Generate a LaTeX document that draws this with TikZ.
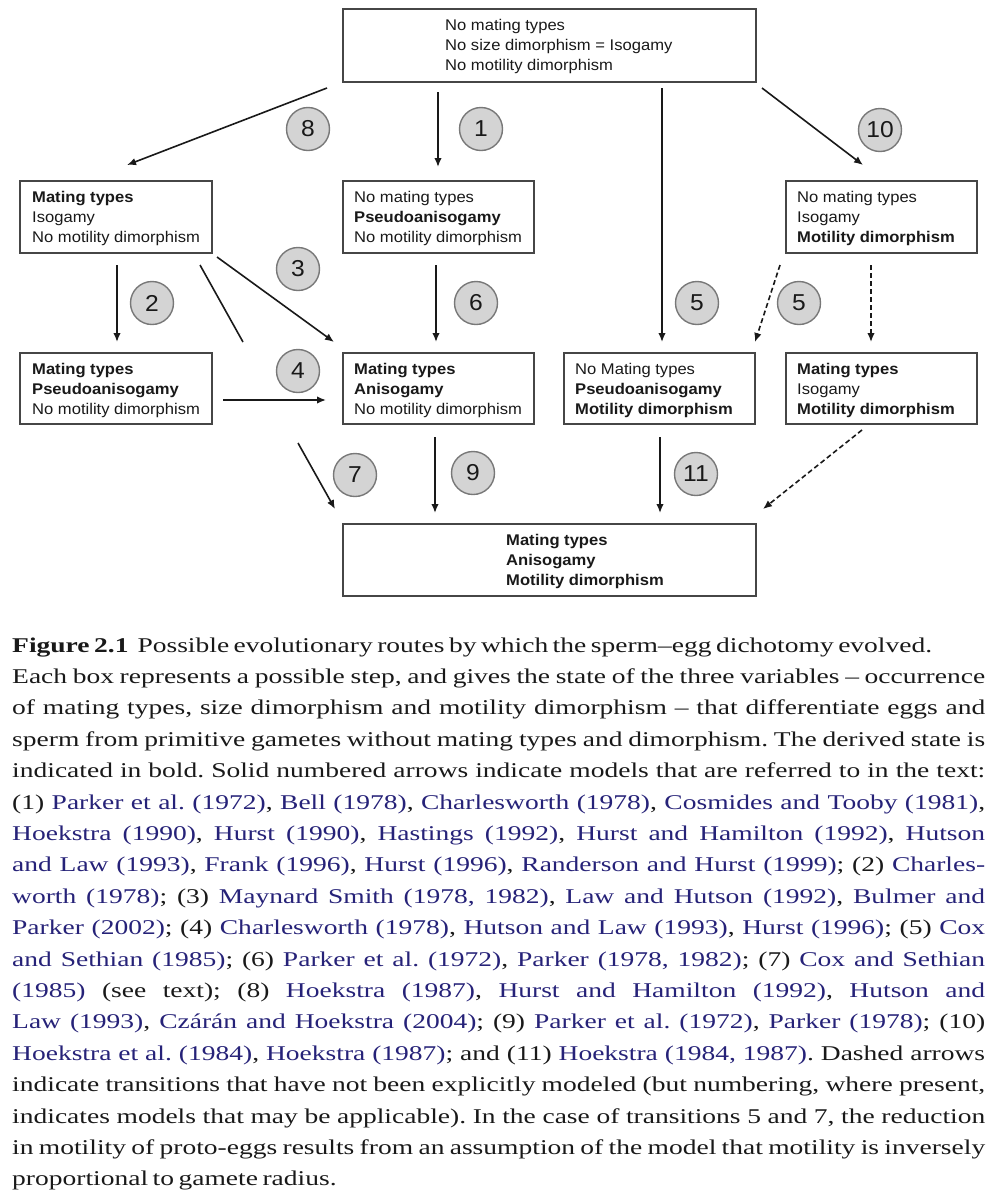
\documentclass[tikz,border=0pt]{standalone}
\usepackage{fontspec}
\usetikzlibrary{arrows.meta}
\newfontfamily\diafont[FakeStretch=1.07]{Liberation Sans}
\newfontfamily\capfont[FakeStretch=1.31]{Liberation Serif}
\definecolor{citeblue}{RGB}{38,34,120}
\definecolor{boxline}{RGB}{70,70,70}
\definecolor{circfill}{RGB}{212,212,212}
\definecolor{circline}{RGB}{120,120,120}
\definecolor{txt}{RGB}{25,25,25}
\newcommand\mycite[1]{\textcolor{citeblue}{#1}}
\begin{document}
\begin{tikzpicture}[x=1pt,y=-1pt,
  statebox/.style={draw=boxline, line width=1.6pt, rectangle, inner sep=0pt},
  boxtext/.style={anchor=west, inner sep=0pt, align=left, text=txt, font=\diafont\fontsize{15.5}{20}\selectfont},
  numcirc/.style={circle, draw=circline, fill=circfill, line width=1.4pt, minimum size=43pt, inner sep=0pt, text=txt, font=\diafont\fontsize{23}{23}\selectfont},
  arr/.style={line width=1.6pt, draw=txt, -{Latex[length=9pt,width=7.5pt]}},
  darr/.style={arr, dash pattern=on 5pt off 3pt},
  plainline/.style={line width=1.6pt, draw=txt},
]
\useasboundingbox (0,0) rectangle (998,1200);

% boxes
\node[statebox, minimum width=413pt, minimum height=73pt] (top) at (549.5,45.5) {};
\node[statebox, minimum width=192pt, minimum height=72pt] (L1) at (116,217) {};
\node[statebox, minimum width=191pt, minimum height=72pt] (M1) at (438.5,217) {};
\node[statebox, minimum width=191pt, minimum height=72pt] (R1) at (881.5,217) {};
\node[statebox, minimum width=192pt, minimum height=71pt] (L2) at (116,388.5) {};
\node[statebox, minimum width=191pt, minimum height=71pt] (M2) at (438.5,388.5) {};
\node[statebox, minimum width=191pt, minimum height=71pt] (R2a) at (659.5,388.5) {};
\node[statebox, minimum width=191pt, minimum height=71pt] (R2b) at (881.5,388.5) {};
\node[statebox, minimum width=413pt, minimum height=72pt] (bot) at (549.5,560) {};

% box texts
\node[boxtext] (ttop) at (445,46) {No mating types\\No size dimorphism = Isogamy\\No motility dimorphism};
\node[boxtext] (tL1) at (32,218) {\textbf{Mating types}\\Isogamy\\No motility dimorphism};
\node[boxtext] (tM1) at (354,218) {No mating types\\\textbf{Pseudoanisogamy}\\No motility dimorphism};
\node[boxtext] (tR1) at (797,218) {No mating types\\Isogamy\\\textbf{Motility dimorphism}};
\node[boxtext] (tL2) at (32,390) {\textbf{Mating types}\\\textbf{Pseudoanisogamy}\\No motility dimorphism};
\node[boxtext] (tM2) at (354,390) {\textbf{Mating types}\\\textbf{Anisogamy}\\No motility dimorphism};
\node[boxtext] (tR2a) at (575,390) {No Mating types\\\textbf{Pseudoanisogamy}\\\textbf{Motility dimorphism}};
\node[boxtext] (tR2b) at (797,390) {\textbf{Mating types}\\Isogamy\\\textbf{Motility dimorphism}};
\node[boxtext] (tbot) at (506,561) {\textbf{Mating types}\\\textbf{Anisogamy}\\\textbf{Motility dimorphism}};

% connector end points
\coordinate (s8) at (327,88);   \coordinate (e8) at (127,165);
\coordinate (s1) at (438,92);   \coordinate (e1) at (438,167);
\coordinate (s5) at (662,88);   \coordinate (e5) at (662,342);
\coordinate (s10) at (762,88);  \coordinate (e10) at (863,165);
\coordinate (s2) at (117,265);  \coordinate (e2) at (117,342);
\coordinate (s3) at (217,257);  \coordinate (e3) at (334,342);
\coordinate (s7a) at (200,265); \coordinate (e7a) at (243,342);
\coordinate (s7b) at (298,443); \coordinate (e7b) at (335,509);
\coordinate (s4) at (223,400);  \coordinate (e4) at (326,400);
\coordinate (s6) at (436,265);  \coordinate (e6) at (436,342);
\coordinate (s5d) at (780,265); \coordinate (e5d) at (755,342);
\coordinate (sRd) at (871,265); \coordinate (eRd) at (871,342);
\coordinate (s9) at (435,437);  \coordinate (e9) at (435,513);
\coordinate (s11) at (660,437); \coordinate (e11) at (660,513);
\coordinate (sBd) at (862,430); \coordinate (eBd) at (763,509);

% connectors
\draw[arr] (s8) -- (e8);
\draw[arr] (s1) -- (e1);
\draw[arr] (s5) -- (e5);
\draw[arr] (s10) -- (e10);
\draw[arr] (s2) -- (e2);
\draw[arr] (s3) -- (e3);
\draw[plainline] (s7a) -- (e7a);
\draw[arr] (s7b) -- (e7b);
\draw[arr] (s4) -- (e4);
\draw[arr] (s6) -- (e6);
\draw[darr] (s5d) -- (e5d);
\draw[darr] (sRd) -- (eRd);
\draw[arr] (s9) -- (e9);
\draw[arr] (s11) -- (e11);
\draw[darr] (sBd) -- (eBd);

% numbered circles
\node[numcirc] (n8) at (308,129) {8};
\node[numcirc] (n1) at (481,129) {1};
\node[numcirc] (n10) at (880,130) {10};
\node[numcirc] (n3) at (298,269) {3};
\node[numcirc] (n2) at (152,303) {2};
\node[numcirc] (n4) at (298,371) {4};
\node[numcirc] (n6) at (476,303) {6};
\node[numcirc] (n5a) at (697,303) {5};
\node[numcirc] (n5b) at (799,303) {5};
\node[numcirc] (n7) at (355,475) {7};
\node[numcirc] (n9) at (473,473) {9};
\node[numcirc] (n11) at (696,474) {11};

% caption
\node[anchor=base west, inner sep=0pt, text=txt] (caption) at (12,652) {%
\begin{minipage}[t]{973pt}\capfont\fontsize{21}{31.4}\selectfont\frenchspacing
\spaceskip=4.5pt plus 8pt minus 1.5pt\relax
\hbox{\textbf{Figure 2.1}\hspace{9pt}Possible evolutionary routes by which the sperm–egg dichotomy evolved.}
\hbox to\linewidth{Each box represents a possible step, and gives the state of the three variables – occurrence}
\hbox to\linewidth{of mating types, size dimorphism and motility dimorphism – that differentiate eggs and}
\hbox to\linewidth{sperm from primitive gametes without mating types and dimorphism. The derived state is}
\hbox to\linewidth{indicated in bold. Solid numbered arrows indicate models that are referred to in the text:}
\hbox to\linewidth{(1) \mycite{Parker et al. (1972)}, \mycite{Bell (1978)}, \mycite{Charlesworth (1978)}, \mycite{Cosmides and Tooby (1981)},}
\hbox to\linewidth{\mycite{Hoekstra (1990)}, \mycite{Hurst (1990)}, \mycite{Hastings (1992)}, \mycite{Hurst and Hamilton (1992)}, \mycite{Hutson}}
\hbox to\linewidth{\mycite{and Law (1993)}, \mycite{Frank (1996)}, \mycite{Hurst (1996)}, \mycite{Randerson and Hurst (1999)}; (2) \mycite{Charles-}}
\hbox to\linewidth{\mycite{worth (1978)}; (3) \mycite{Maynard Smith (1978, 1982)}, \mycite{Law and Hutson (1992)}, \mycite{Bulmer and}}
\hbox to\linewidth{\mycite{Parker (2002)}; (4) \mycite{Charlesworth (1978)}, \mycite{Hutson and Law (1993)}, \mycite{Hurst (1996)}; (5) \mycite{Cox}}
\hbox to\linewidth{\mycite{and Sethian (1985)}; (6) \mycite{Parker et al. (1972)}, \mycite{Parker (1978, 1982)}; (7) \mycite{Cox and Sethian}}
\hbox to\linewidth{\mycite{(1985)} (see text); (8) \mycite{Hoekstra (1987)}, \mycite{Hurst and Hamilton (1992)}, \mycite{Hutson and}}
\hbox to\linewidth{\mycite{Law (1993)}, \mycite{Czárán and Hoekstra (2004)}; (9) \mycite{Parker et al. (1972)}, \mycite{Parker (1978)}; (10)}
\hbox to\linewidth{\mycite{Hoekstra et al. (1984)}, \mycite{Hoekstra (1987)}; and (11) \mycite{Hoekstra (1984, 1987)}. Dashed arrows}
\hbox to\linewidth{indicate transitions that have not been explicitly modeled (but numbering, where present,}
\hbox to\linewidth{indicates models that may be applicable). In the case of transitions 5 and 7, the reduction}
\hbox to\linewidth{in motility of proto-eggs results from an assumption of the model that motility is inversely}
\hbox{proportional to gamete radius.}
\end{minipage}};
\end{tikzpicture}
\end{document}
